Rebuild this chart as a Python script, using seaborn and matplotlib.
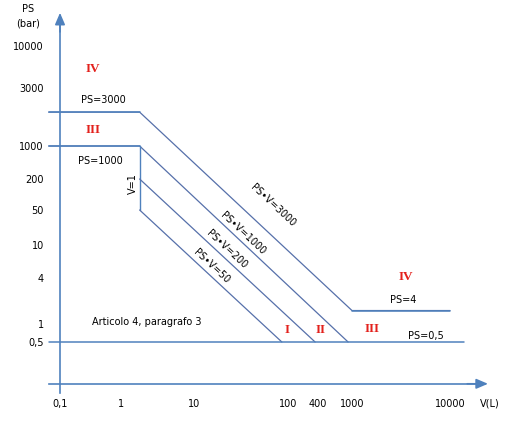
import numpy as np
import matplotlib
matplotlib.use("Agg")
import matplotlib.pyplot as plt
import seaborn as sns

sns.set_style("white")
plt.rcParams['font.family'] = ['DejaVu Sans']
plt.rcParams['text.color'] = 'black'
plt.rcParams['xtick.labelcolor'] = 'black'
plt.rcParams['ytick.labelcolor'] = 'black'

# axis ticks (V in litres, PS in bar)
v_ticks = [0.1, 1, 10, 100, 400, 1000, 10000]
v_tick_labels = ['0,1', '1', '10', '100', '400', '1000', '10000']
ps_ticks = [0.5, 1, 4, 10, 50, 200, 1000, 3000, 10000]
ps_tick_labels = ['0,5', '1', '4', '10', '50', '200', '1000', '3000', '10000']

# category boundaries, values
ps3000_v = [0.065, 1.8, 1000, 10000]
ps3000_ps = [1900, 1900, 1.5, 1.5]
ps1000_v = [0.065, 1.8, 900]
ps1000_ps = [1000, 1000, 0.5]
v1_v = [1.8, 1.8]
v1_ps = [1000, 50]
psv200_v = [1.8, 350]
psv200_ps = [200, 0.5]
psv50_v = [1.8, 86]
psv50_ps = [50, 0.5]
ps05_v = [0.065, 14000]
ps05_ps = [0.5, 0.5]

# the drawing is a schematic: the decades are not evenly spaced,
# so the scales are piecewise-logarithmic through the tick positions
W, H = 530, 426
x_knot_v = [0.001, 0.1, 1, 10, 100, 400, 1000, 10000, 1e6]
x_knot_px = [-62, 60, 121, 194, 288, 318, 352, 450, 646]
y_knot_ps = [0.01, 0.5, 1, 4, 10, 50, 200, 1000, 3000, 10000, 1e6]
y_knot_px = [443.6, 342, 324, 278, 245, 210, 179, 146, 88, 46, -114]


def make_scale(vals, pos):
    lk = np.log10(vals)
    kp = np.asarray(pos, float)

    def fwd(v):
        v = np.asarray(v, float)
        return np.interp(np.log10(np.clip(v, 1e-12, None)), lk, kp)

    def inv(p):
        return 10 ** np.interp(np.asarray(p, float), kp, lk)
    return fwd, inv


fx, ix = make_scale(x_knot_v, x_knot_px)
fy, iy = make_scale(y_knot_ps, H - np.asarray(y_knot_px))

axis_c = '#4f81bd'
line_c = '#5670aa'
red = '#e3211c'

fig = plt.figure(figsize=(W / 100, H / 100), dpi=100)
ax = fig.add_axes([0, 0, 1, 1])
ax.set_xscale('function', functions=(fx, ix))
ax.set_yscale('function', functions=(fy, iy))
ax.set_xlim(ix(0), ix(W))
ax.set_ylim(iy(0), iy(H))

# boundaries
kw = dict(sort=False, estimator=None, ax=ax)
sns.lineplot(x=ps3000_v, y=ps3000_ps, color=line_c, lw=0.9, **kw)
sns.lineplot(x=ps1000_v, y=ps1000_ps, color=line_c, lw=0.9, **kw)
sns.lineplot(x=v1_v, y=v1_ps, color=axis_c, lw=1.0, **kw)
sns.lineplot(x=psv200_v, y=psv200_ps, color=line_c, lw=0.9, **kw)
sns.lineplot(x=psv50_v, y=psv50_ps, color=line_c, lw=0.9, **kw)
sns.lineplot(x=ps05_v, y=ps05_ps, color=axis_c, lw=1.1, **kw)
# horizontal parts in the axis colour
ax.plot(ps3000_v[:2], ps3000_ps[:2], color=axis_c, lw=1.1)
ax.plot(ps3000_v[2:], ps3000_ps[2:], color=axis_c, lw=1.1)
ax.plot(ps1000_v[:2], ps1000_ps[:2], color=axis_c, lw=1.1)

# axes with arrows
for s in ['top', 'right']:
    ax.spines[s].set_visible(False)
for s in ['left', 'bottom']:
    ax.spines[s].set_position(('data', 0.1))
    ax.spines[s].set_color(axis_c)
    ax.spines[s].set_linewidth(1.2)
ax.spines['left'].set_bounds(0.07, 20000)
ax.spines['bottom'].set_bounds(0.065, 20000)
arrow = dict(arrowstyle='-|>,head_length=0.7,head_width=0.3', color=axis_c,
             lw=1.2, shrinkA=0, shrinkB=0)
ax.annotate('', xy=(0.1, 26000), xytext=(0.1, 15000), arrowprops=arrow)
ax.annotate('', xy=(24400, 0.1), xytext=(15000, 0.1), arrowprops=arrow)

ax.set_xticks(v_ticks, v_tick_labels)
ax.set_yticks(ps_ticks, ps_tick_labels)
ax.minorticks_off()
ax.tick_params(axis='x', direction='out', length=7.2, width=1.1,
               color=axis_c, pad=4, labelsize=7, labelcolor='black')
ax.tick_params(axis='y', direction='out', length=8.6, width=1.1,
               color=axis_c, pad=3, labelsize=7, labelcolor='black')
ax.yaxis.get_major_ticks()[ps_ticks.index(3000)].tick1line.set_visible(False)
ax.xaxis.get_major_ticks()[0].tick1line.set_visible(False)


def put(x, y, s, **kw):
    kw.setdefault('fontsize', 7)
    kw.setdefault('color', 'black')
    fig.text(x / W, 1 - y / H, s, ha='center', va='center', **kw)


put(28, 9, 'PS')
put(28, 23, '(bar)')
put(490, 404, 'V(L)')

put(103, 100, 'PS=3000')
put(100, 161, 'PS=1000')
put(133, 184, 'V=1', rotation=90)
put(273, 205, 'PS•V=3000', rotation=-43)
put(243, 233, 'PS•V=1000', rotation=-43)
put(227, 249, 'PS•V=200', rotation=-43)
put(212, 266, 'PS•V=50', rotation=-43)
put(147, 322, 'Articolo 4, paragrafo 3')
put(403, 300, 'PS=4')
put(426, 336, 'PS=0,5')

roman = dict(color=red, fontsize=9.5, fontweight='bold',
             family=['Liberation Serif', 'DejaVu Serif'])
put(93, 69, 'IV', **roman)
put(93, 130, 'III', **roman)
put(287, 330, 'I', **roman)
put(321, 330, 'II', **roman)
put(372, 329, 'III', **roman)
put(406, 277, 'IV', **roman)

fig.savefig('out.png', dpi=100)
